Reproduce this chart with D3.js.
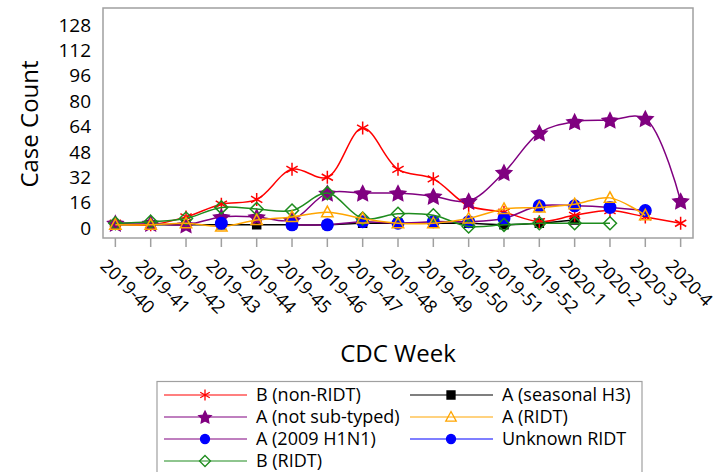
<!DOCTYPE html>
<html><head><meta charset="utf-8">
<script src="https://cdn.jsdelivr.net/npm/d3@7"></script>
<style>body{margin:0;background:#fff}svg{display:block}text{font-family:"Open Sans",sans-serif;fill:#000}</style>
</head><body><svg id="c" width="728" height="472"></svg>
<script>
const weeks = ["2019-40","2019-41","2019-42","2019-43","2019-44","2019-45","2019-46","2019-47","2019-48","2019-49","2019-50","2019-51","2019-52","2020-1","2020-2","2020-3","2020-4"];
const yTicks = [0,16,32,48,64,80,96,112,128];
const bNonRidt   = [3,2,7,15,18,37,32,63,37,31,14,10,4,8,11,7,3];
const aNotSub    = [3,3,2,7,7,5,22,22,22,20,17,35,60,67,68,69,17];
const aH1N1      = [null,null,null,null,null,2,2,4,3,4,4,6,14,14,13,11,null];
const bRidt      = [3,4,6,13,12,11,22,6,9,8,1,2,3,3,3,null,null];
const aH3        = [2,2,2,2,2,2,2,3,3,3,3,2,3,5,null,null,null];
const aRidt      = [2,2,3,1,5,7,10,6,3,3,6,12,13,15,19,8,null];
const unknownRidt= [null,null,null,3,null,null,null,null,null,null,null,null,null,null,null,null,null];
const seriesNames = ["B (non-RIDT)","A (not sub-typed)","A (2009 H1N1)","B (RIDT)","A (seasonal H3)","A (RIDT)","Unknown RIDT"];

const series = [
  {name:seriesNames[0], vals:bNonRidt, line:"#ff0000", mark:"asterisk", fill:"none", stroke:"#ff0000"},
  {name:seriesNames[1], vals:aNotSub, line:"#800080", mark:"star", fill:"#800080", stroke:"#800080"},
  {name:seriesNames[2], vals:aH1N1, line:"#800080", mark:"circle", fill:"#0000ff", stroke:"#0000ff"},
  {name:seriesNames[3], vals:bRidt, line:"#1e8c1e", mark:"diamond", fill:"none", stroke:"#1e8c1e"},
  {name:seriesNames[4], vals:aH3, line:"#000000", mark:"square", fill:"#000", stroke:"#000"},
  {name:seriesNames[5], vals:aRidt, line:"#ffa500", mark:"triangle", fill:"none", stroke:"#ffa500"},
  {name:seriesNames[6], vals:unknownRidt, line:"#0000ff", mark:"circle", fill:"#0000ff", stroke:"#0000ff"}
];
const drawOrder = [4,0,1,2,3,5,6];

const svg = d3.select("#c");
const L=103,R=693,T=8,B=238;
const x = d3.scalePoint().domain(weeks).range([L,R]).padding(0.35);
const y = d3.scaleLinear().domain([-6.3,138.7]).range([B,T]);

function markerPath(type, s){
  const h=s/2;
  if(type==="star"){
    const p=d3.path();
    for(let k=0;k<10;k++){
      const r = k%2===0 ? h : h*0.5;
      const a = -Math.PI/2 + k*Math.PI/5;
      const px=r*Math.cos(a), py=r*Math.sin(a)+h*0.1;
      if(k===0) p.moveTo(px,py); else p.lineTo(px,py);
    }
    p.closePath(); return p.toString();
  }
  if(type==="circle") return d3.symbol(d3.symbolCircle, Math.PI*h*h)();
  if(type==="square") return d3.symbol(d3.symbolSquare, s*s)();
  if(type==="diamond") return `M0,${-h}L${h},0L0,${h}L${-h},0Z`;
  if(type==="triangle") return `M0,${-h}L${h*0.95},${h*0.75}L${-h*0.95},${h*0.75}Z`;
  if(type==="asterisk"){const a=h*0.866,b=h*0.5;return `M0,${-h}L0,${h}M${-a},${-b}L${a},${b}M${-a},${b}L${a},${-b}`;}
}
const chartSize = {asterisk:13, star:16, circle:11.5, diamond:13, square:8, triangle:12};
const legSize = {asterisk:11, star:13, circle:9, diamond:11, square:8, triangle:11};

// frame
svg.append("rect").attr("x",L).attr("y",T).attr("width",R-L).attr("height",B-T)
  .attr("fill","none").attr("stroke","#a0a0a0").attr("stroke-width",1.5);

// y labels
svg.append("g").selectAll("text").data(yTicks).join("text")
  .attr("x",91).attr("y",d=>y(d)).attr("dy","0.35em").attr("text-anchor","end")
  .attr("font-size",19).text(d=>d);

// x ticks
const xg = svg.append("g");
xg.selectAll("line").data(weeks).join("line")
  .attr("x1",d=>x(d)).attr("x2",d=>x(d)).attr("y1",B).attr("y2",B+9)
  .attr("stroke","#a0a0a0").attr("stroke-width",1.5);
xg.selectAll("text").data(weeks).join("text")
  .attr("transform",d=>`translate(${x(d)-16},${B+29}) rotate(45)`)
  .attr("font-size",18).text(d=>d);

// titles
svg.append("text").attr("transform","translate(38,124) rotate(-90)").attr("text-anchor","middle")
  .attr("font-size",24).text("Case Count");
svg.append("text").attr("x",(L+R)/2).attr("y",362).attr("text-anchor","middle")
  .attr("font-size",24).text("CDC Week");

// series
const line = d3.line().defined(d=>d.v!=null).x(d=>x(d.w)).y(d=>y(d.v)).curve(d3.curveCatmullRom.alpha(0.5));
const plot = svg.append("g");
drawOrder.forEach(k=>{
  const s = series[k];
  const pts = weeks.map((w,i)=>({w, v:s.vals[i]}));
  plot.append("path").datum(pts).attr("d",line).attr("fill","none")
    .attr("stroke",s.line).attr("stroke-width",1.5);
  plot.append("g").selectAll("path").data(pts.filter(d=>d.v!=null)).join("path")
    .attr("transform",d=>`translate(${x(d.w)},${y(d.v)})`)
    .attr("d",markerPath(s.mark, chartSize[s.mark]))
    .attr("fill",s.fill).attr("stroke",s.stroke).attr("stroke-width",1.5);
});

// legend
const lg = svg.append("g");
lg.append("rect").attr("x",157).attr("y",381.5).attr("width",485).attr("height",100)
  .attr("fill","#fff").attr("stroke","#a0a0a0").attr("stroke-width",1.2);
const legPos = [
  {i:0,c:0,r:0},{i:4,c:1,r:0},{i:1,c:0,r:1},{i:5,c:1,r:1},{i:2,c:0,r:2},{i:6,c:1,r:2},{i:3,c:0,r:3}
];
const colX = [164, 410];
legPos.forEach(p=>{
  const s = series[p.i];
  const x0 = colX[p.c], yy = 395 + p.r*22;
  lg.append("line").attr("x1",x0).attr("x2",x0+83).attr("y1",yy).attr("y2",yy)
    .attr("stroke",s.line).attr("stroke-width",1.2);
  lg.append("path").attr("transform",`translate(${x0+41},${yy})`)
    .attr("d",markerPath(s.mark, legSize[s.mark]))
    .attr("fill",s.fill).attr("stroke",s.stroke).attr("stroke-width",1.3);
  lg.append("text").attr("x",x0+92).attr("y",yy).attr("dy","0.35em")
    .attr("font-size",18).text(s.name);
});
</script></body></html>
